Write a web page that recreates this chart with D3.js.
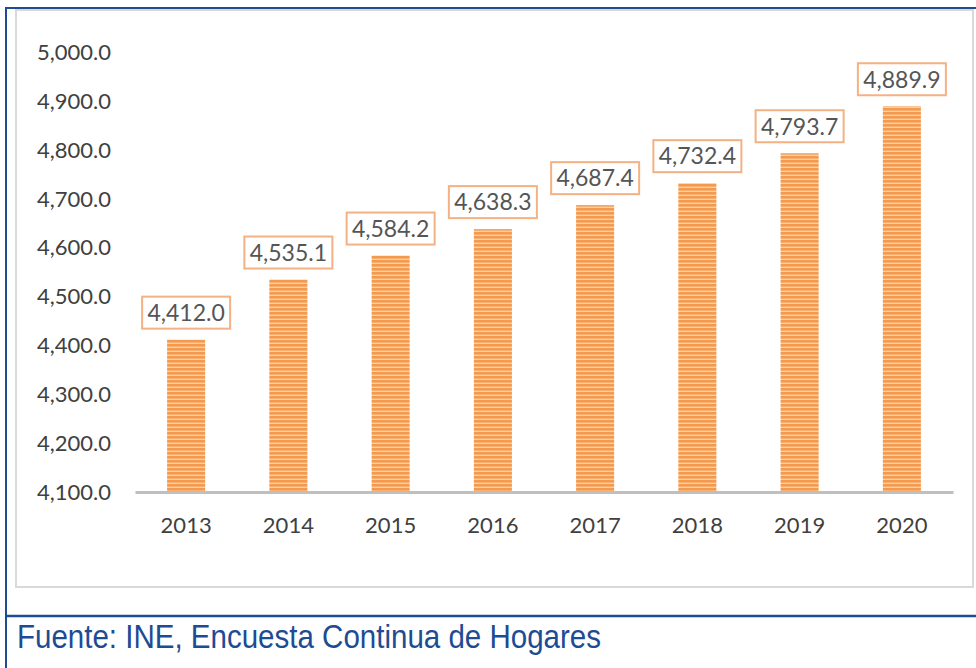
<!DOCTYPE html>
<html>
<head>
<meta charset="utf-8">
<script src="https://cdn.jsdelivr.net/npm/d3@7"></script>
<style>
  body { margin: 0; background: #fff; }
  svg { display: block; }
</style>
</head>
<body>
<div id="graphics"></div>
<script>
var years = ["2013", "2014", "2015", "2016", "2017", "2018", "2019", "2020"];
var values = [4412.0, 4535.1, 4584.2, 4638.3, 4687.4, 4732.4, 4793.7, 4889.9];
var yTicks = [4100, 4200, 4300, 4400, 4500, 4600, 4700, 4800, 4900, 5000];
var source = "Fuente: INE, Encuesta Continua de Hogares";

function drawBarChart() {
  var w = 976;
  var h = 668;
  var blue = "#1d4b94";
  var textColor = "#404040";

  var svg = d3.select("#graphics")
            .append("svg")
            .attr("width", w)
            .attr("height", h);

  // stripes for the bars
  var pat = svg.append("defs").append("pattern")
    .attr("id", "stripes")
    .attr("patternUnits", "userSpaceOnUse")
    .attr("width", 8)
    .attr("height", 4);
  pat.append("rect").attr("width", 8).attr("height", 4).attr("fill", "#fbcfa6");
  pat.append("rect").attr("width", 8).attr("height", 2.6).attr("fill", "#f39a4e");

  // chart frame (light gray)
  svg.append("rect")
    .attr("x", 16).attr("y", 10)
    .attr("width", 957).attr("height", 577)
    .attr("fill", "#fff")
    .attr("stroke", "#d9d9d9")
    .attr("stroke-width", 2);

  // blue page borders
  svg.append("line").attr("x1", 6).attr("x2", w).attr("y1", 8).attr("y2", 8)
    .attr("stroke", blue).attr("stroke-width", 2);
  svg.append("line").attr("x1", 6).attr("x2", 6).attr("y1", 7).attr("y2", h)
    .attr("stroke", blue).attr("stroke-width", 2);
  svg.append("line").attr("x1", 6).attr("x2", w).attr("y1", 616).attr("y2", 616)
    .attr("stroke", blue).attr("stroke-width", 2.5);

  var x = d3.scaleBand()
    .domain(years)
    .range([135, 953])
    .paddingInner(0.628)
    .paddingOuter(0.314);

  var y = d3.scaleLinear()
    .domain([4100, 5000])
    .range([492, 52.5]);

  // y axis
  var yAxis = svg.append("g")
    .attr("transform", "translate(111,0)")
    .call(d3.axisLeft(y).tickValues(yTicks).tickSize(0).tickPadding(0).tickFormat(d3.format(",.1f")));
  yAxis.select(".domain").remove();
  yAxis.selectAll("text")
    .attr("font-family", "Lato, sans-serif")
    .attr("font-size", "22px")
    .attr("fill", textColor);

  // bars
  svg.selectAll("rect.bar")
    .data(values)
    .enter()
    .append("rect")
    .attr("class", "bar")
    .attr("x", function(d, i) { return x(years[i]); })
    .attr("y", function(d) { return y(d); })
    .attr("width", x.bandwidth())
    .attr("height", function(d) { return y(4100) - y(d); })
    .attr("fill", "url(#stripes)");

  // x axis
  var xAxis = svg.append("g")
    .attr("transform", "translate(0," + y(4100) + ")")
    .call(d3.axisBottom(x).tickSize(0).tickPadding(25));
  xAxis.select(".domain")
    .attr("stroke", "#bfbfbf")
    .attr("stroke-width", 3);
  xAxis.selectAll("text")
    .attr("font-family", "Lato, sans-serif")
    .attr("font-size", "22px")
    .attr("fill", textColor);

  // value labels in boxes
  var boxW = 88;
  var boxH = 32;
  var labels = svg.selectAll("g.label")
    .data(values)
    .enter()
    .append("g")
    .attr("class", "label")
    .attr("transform", function(d, i) {
      return "translate(" + (x(years[i]) + x.bandwidth() / 2) + "," + (y(d) - 11 - boxH / 2) + ")";
    });
  labels.append("rect")
    .attr("x", -boxW / 2)
    .attr("y", -boxH / 2)
    .attr("width", boxW)
    .attr("height", boxH)
    .attr("fill", "#fff")
    .attr("stroke", "#f4b183")
    .attr("stroke-width", 2);
  labels.append("text")
    .text(function(d) { return d3.format(",.1f")(d); })
    .attr("text-anchor", "middle")
    .attr("dy", "0.36em")
    .attr("font-family", "Lato, sans-serif")
    .attr("font-size", "23px")
    .attr("fill", "#555555");

  // source note
  svg.append("text")
    .text(source)
    .attr("x", 17)
    .attr("y", 648)
    .attr("textLength", 584)
    .attr("lengthAdjust", "spacingAndGlyphs")
    .attr("font-family", "Liberation Sans, Arial, sans-serif")
    .attr("font-size", "33px")
    .attr("fill", "#1d4b94");
}

drawBarChart();
</script>
</body>
</html>
